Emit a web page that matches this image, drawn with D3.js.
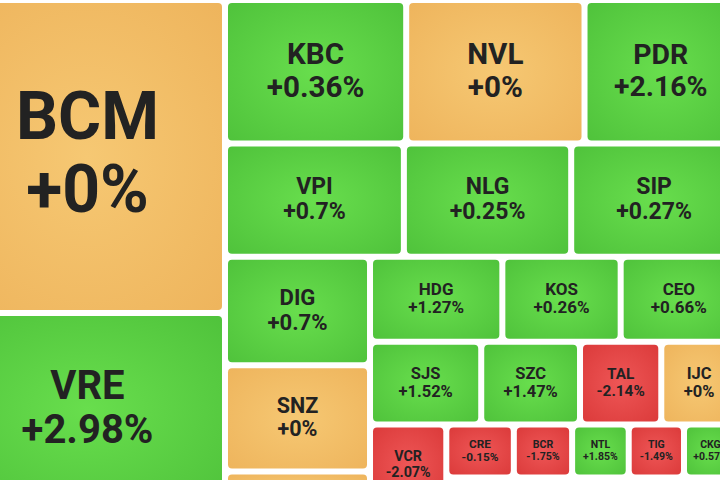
<!DOCTYPE html>
<html><head><meta charset="utf-8">
<script src="https://cdn.jsdelivr.net/npm/d3@7"></script>
<style>html,body{margin:0;padding:0;background:#fff;overflow:hidden} svg{display:block}</style>
</head><body>
<svg id="chart" width="720" height="480"></svg>
<script>
// Hierarchy of groups (slice/dice nesting of the heatmap)
const groupIds     = ["root","col1","col2","row1","row2","row3","dig","right","ra","rb","rc","vcrg","rcg","rc1","rc2"];
const groupParents = [null,  "root","root","col2","col2","col2","row3","row3","right","right","right","rc","rc","rcg","rcg"];

// Tickers, their group, % change and tile weight (estimated from tile areas)
const tickers      = ["BCM","VRE","KBC","NVL","PDR","VPI","NLG","SIP","DIG","SNZ","","HDG","KOS","CEO","SJS","SZC","TAL","IJC","VCR","CRE","BCR","NTL","TIG","CKG",""];
const tickerGroups = ["col1","col1","row1","row1","row1","row2","row2","row2","dig","dig","dig","ra","ra","ra","rb","rb","rb","rb","vcrg","rc1","rc1","rc1","rc1","rc1","rc2"];
const changes      = [0, 2.98, 0.36, 0, 2.16, 0.7, 0.25, 0.27, 0.7, 0, 0, 1.27, 0.26, 0.66, 1.52, 1.47, -2.14, 0, -2.07, -0.15, -1.75, 1.85, -1.49, 0.57, 0];
const weights      = [860.8, 528.0, 260.0, 255.9, 218.8, 202.5, 189.4, 187.7, 157.5, 154.0, 48.6, 112.5, 100.6, 98.9, 92.1, 81.8, 67.3, 62.7, 61.4, 35.8, 30.9, 30.0, 29.3, 28.1, 79.9];

const W = 720, H = 480;
const FONT = "Roboto, 'Noto Sans', 'DejaVu Sans', sans-serif";
const svg = d3.select("#chart");
svg.append("rect").attr("width", W).attr("height", H).attr("fill", "#ffffff");

const defs = svg.append("defs");
const palettes = {
  up:   ["#68de4d", "#4fc23b"],
  flat: ["#f6c873", "#eeb45c"],
  down: ["#ee5656", "#db3a3a"]
};
Object.entries(palettes).forEach(([k, [c0, c1]]) => {
  const g = defs.append("radialGradient").attr("id", "grad-" + k)
    .attr("cx", "50%").attr("cy", "50%").attr("r", "72%");
  g.append("stop").attr("offset", "0%").attr("stop-color", c0);
  g.append("stop").attr("offset", "100%").attr("stop-color", c1);
});
const color = d3.scaleOrdinal().domain([-1, 0, 1]).range(["url(#grad-down)", "url(#grad-flat)", "url(#grad-up)"]);

const rows = groupIds.map((id, i) => ({ id, parent: groupParents[i] }))
  .concat(tickers.map((t, i) => ({ id: t || ("_blank" + i), parent: tickerGroups[i], name: t, change: changes[i], value: weights[i] })));

const root = d3.stratify().id(d => d.id).parentId(d => d.parent)(rows)
  .sum(d => d.value || 0);

// the heatmap is wider than the view: its left part is cropped off
d3.treemap().tile(d3.treemapSliceDice).size([781, 499]).paddingInner(6)(root);

const g = svg.append("g").attr("transform", "translate(-47,3)");
const leaves = root.leaves();

g.selectAll("rect.tile").data(leaves).join("rect")
  .attr("class", "tile")
  .attr("x", d => d.x0).attr("y", d => d.y0)
  .attr("width", d => Math.max(0, d.x1 - d.x0))
  .attr("height", d => Math.max(0, d.y1 - d.y0))
  .attr("rx", 4).attr("ry", 4)
  .attr("fill", d => color(Math.sign(d.data.change)));

const measure = svg.append("text").attr("font-family", FONT).attr("font-weight", 700)
  .attr("font-size", 100).attr("visibility", "hidden");
function emWidth(s) { measure.text(s); return measure.node().getComputedTextLength() / 100; }
const fmt = v => (v >= 0 ? "+" : "") + v + "%";

const labeled = leaves.filter(d => d.data.name);
const lab = g.selectAll("g.lab").data(labeled).join("g").attr("class", "lab");
lab.each(function(d) {
  const w = d.x1 - d.x0, h = d.y1 - d.y0;
  const l1 = d.data.name, l2 = fmt(d.data.change);
  const em = Math.max(emWidth(l1), emWidth(l2));
  const wfit = 0.64 * w / em;
  const ratio = h < 60 ? 0.25 : 0.215;
  const f = Math.max(Math.min(ratio * h, wfit), 10.5);
  const cx = (d.x0 + d.x1) / 2, cy = (d.y0 + d.y1) / 2;
  const b1 = cy - 0.26 * f, b2 = b1 + 1.1 * f;
  const sel = d3.select(this);
  [[l1, b1], [l2, b2]].forEach(([t, y]) => {
    sel.append("text").attr("x", cx).attr("y", y)
      .attr("text-anchor", "middle").attr("font-family", FONT).attr("font-weight", 700)
      .attr("font-size", f.toFixed(1)).attr("fill", "#222").text(t);
  });
});
measure.remove();
</script>
</body></html>
